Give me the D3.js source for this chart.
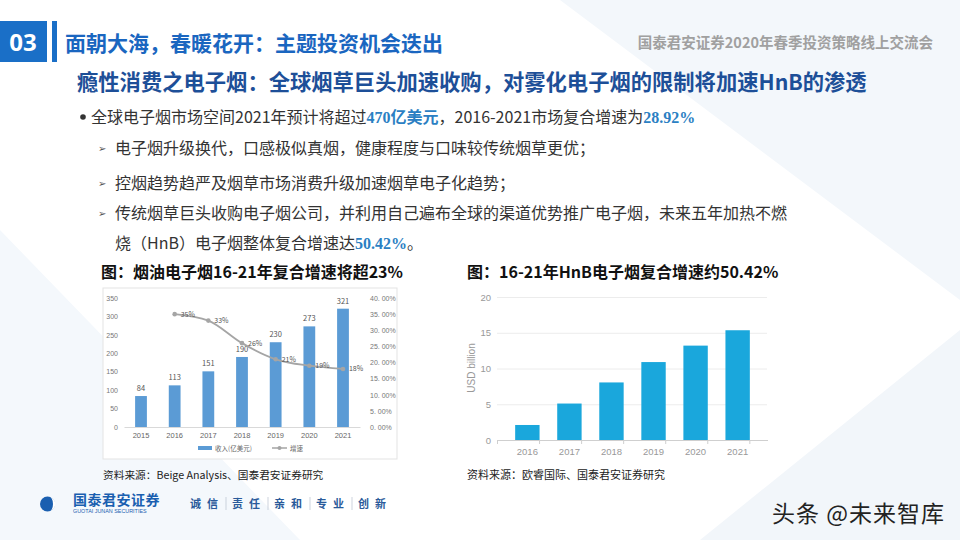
<!DOCTYPE html>
<html>
<head>
<meta charset="utf-8">
<script src="https://cdn.jsdelivr.net/npm/d3@7"></script>
<style>
  body { margin: 0; background: #fff; }
  svg { display: block; font-family: "Noto Sans CJK SC", "Noto Sans", sans-serif; }
</style>
</head>
<body>
<div id="slide"></div>
<script>
// left chart data (烟油电子烟)
const years1 = ["2015", "2016", "2017", "2018", "2019", "2020", "2021"];
const revenue = [84, 113, 151, 190, 230, 273, 321];
const growthYears = ["2016", "2017", "2018", "2019", "2020", "2021"];
const growth = [0.35, 0.33, 0.26, 0.21, 0.19, 0.18];
const leftTicks = [0, 50, 100, 150, 200, 250, 300, 350];
const rightTicks = [0, 0.05, 0.10, 0.15, 0.20, 0.25, 0.30, 0.35, 0.40];

// right chart data (HnB)
const years2 = ["2016", "2017", "2018", "2019", "2020", "2021"];
const hnb = [2.1, 5.1, 8.05, 10.9, 13.2, 15.35];
const hnbTicks = [0, 5, 10, 15, 20];

const W = 960, H = 540;
const svg = d3.select("#slide").append("svg")
    .attr("width", W).attr("height", H);

// faint background shapes
svg.append("rect").attr("width", W).attr("height", H).attr("fill", "#ffffff");
svg.append("path").attr("d", "M560,0 L960,0 L960,300 Z").attr("fill", "#f3f7fb");
svg.append("path").attr("d", "M0,230 L300,540 L0,540 Z").attr("fill", "#f4f8fc");
svg.append("path").attr("d", "M700,540 L960,330 L960,540 Z").attr("fill", "#f2f6fa");

// header
svg.append("rect").attr("x", 0).attr("y", 21).attr("width", 47).attr("height", 41).attr("fill", "#1a6fc7");
svg.append("text").attr("x", 23).attr("y", 51).attr("text-anchor", "middle")
    .attr("fill", "#fff").style("font-size", "24px").style("font-weight", "bold")
    .style("font-family", "'Open Sans', sans-serif").text("03");
svg.append("rect").attr("x", 52).attr("y", 21).attr("width", 5).attr("height", 41).attr("fill", "#1a6fc7");
svg.append("text").attr("x", 65).attr("y", 51)
    .attr("fill", "#1a66c0").style("font-size", "21px").style("font-weight", "bold")
    .text("面朝大海，春暖花开：主题投资机会迭出");
svg.append("text").attr("x", 933).attr("y", 48).attr("text-anchor", "end")
    .attr("fill", "#a0a0a0").style("font-size", "14.5px").style("font-weight", "bold")
    .text("国泰君安证券2020年春季投资策略线上交流会");
svg.append("text").attr("x", 77).attr("y", 90)
    .attr("fill", "#1d4f98").style("font-size", "21.3px").style("font-weight", "bold")
    .text("瘾性消费之电子烟：全球烟草巨头加速收购，对雾化电子烟的限制将加速HnB的渗透");

// bullets
const serif = "'Liberation Serif', 'DejaVu Serif', serif";
function richLine(x, y, parts) {
    const t = svg.append("text").attr("x", x).attr("y", y)
        .attr("fill", "#333").style("font-size", "16px");
    parts.forEach(p => {
        const s = t.append("tspan").text(p.t);
        if (p.hi) s.attr("fill", "#2b7fc3").style("font-weight", "bold")
            .style("font-family", p.cjk ? null : serif);
    });
}
svg.append("circle").attr("cx", 83).attr("cy", 117).attr("r", 2.8).attr("fill", "#333");
richLine(91, 123, [
    { t: "全球电子烟市场空间2021年预计将超过" },
    { t: "470", hi: true }, { t: "亿美元", hi: true, cjk: true },
    { t: "，2016-2021市场复合增速为" },
    { t: "28.92%", hi: true }
]);
const subs = [
    { y: 154, parts: [{ t: "电子烟升级换代，口感极似真烟，健康程度与口味较传统烟草更优；" }] },
    { y: 189, parts: [{ t: "控烟趋势趋严及烟草市场消费升级加速烟草电子化趋势；" }] },
    { y: 219, parts: [{ t: "传统烟草巨头收购电子烟公司，并利用自己遍布全球的渠道优势推广电子烟，未来五年加热不燃" }] }
];
subs.forEach(s => {
    svg.append("text").attr("x", 98).attr("y", s.y - 2).attr("fill", "#555")
        .style("font-size", "10px").text("➢");
    richLine(115, s.y, s.parts);
});
richLine(115, 249, [{ t: "烧（HnB）电子烟整体复合增速达" }, { t: "50.42%", hi: true }, { t: "。" }]);

// ---------- left chart ----------
svg.append("text").attr("x", 101).attr("y", 278).attr("fill", "#111")
    .style("font-size", "16px").style("font-weight", "bold").text("图：烟油电子烟16-21年复合增速将超23%");
svg.append("rect").attr("x", 103).attr("y", 288).attr("width", 294).attr("height", 171)
    .attr("fill", "#fff").attr("stroke", "#e3e3e3");

const g1 = svg.append("g");
const x1 = d3.scaleBand().domain(years1).range([124, 360]).paddingInner(0.65).paddingOuter(0.33);
const y1 = d3.scaleLinear().domain([0, 350]).range([427, 298]);
const y1r = d3.scaleLinear().domain([0, 0.4]).range([427, 298]);

g1.append("g").attr("transform", "translate(120,0)")
    .call(d3.axisLeft(y1).tickValues(leftTicks).tickSize(0).tickPadding(2))
    .call(a => a.select(".domain").remove())
    .selectAll("text").attr("fill", "#777").style("font-size", "7px");
g1.append("g").attr("transform", "translate(368,0)")
    .call(d3.axisRight(y1r).tickValues(rightTicks).tickSize(0).tickPadding(2)
        .tickFormat(d => d3.format(".2f")(d * 100).replace(".", ". ") + "%"))
    .call(a => a.select(".domain").remove())
    .selectAll("text").attr("fill", "#777").style("font-size", "7px");
g1.append("g").attr("transform", "translate(0,427)")
    .call(d3.axisBottom(x1).tickSize(0).tickPadding(6))
    .call(a => a.select(".domain").attr("stroke", "#d9d9d9"))
    .selectAll("text").attr("fill", "#666").style("font-size", "7.5px");

g1.selectAll(".bar").data(revenue).enter().append("rect")
    .attr("x", (d, i) => x1(years1[i])).attr("y", d => y1(d))
    .attr("width", x1.bandwidth()).attr("height", d => 427 - y1(d))
    .attr("fill", "#5b9bd5");
g1.selectAll(".blab").data(revenue).enter().append("text")
    .attr("x", (d, i) => x1(years1[i]) + x1.bandwidth() / 2).attr("y", d => y1(d) - 5)
    .attr("text-anchor", "middle").attr("fill", "#555").style("font-size", "7.5px").text(d => d);

const cx1 = d => x1(d) + x1.bandwidth() / 2;
g1.append("path").datum(growth)
    .attr("d", d3.line().curve(d3.curveMonotoneX).x((d, i) => cx1(growthYears[i])).y(d => y1r(d)))
    .attr("fill", "none").attr("stroke", "#a5a5a5").attr("stroke-width", 1.8);
g1.selectAll(".pt").data(growth).enter().append("circle")
    .attr("cx", (d, i) => cx1(growthYears[i])).attr("cy", d => y1r(d)).attr("r", 2.3).attr("fill", "#a5a5a5");
g1.selectAll(".glab").data(growth).enter().append("text")
    .attr("x", (d, i) => cx1(growthYears[i]) + 6).attr("y", d => y1r(d) + 2.5)
    .attr("fill", "#555").style("font-size", "7px").text(d => Math.round(d * 100) + "%");

// legend
g1.append("rect").attr("x", 198).attr("y", 446).attr("width", 14).attr("height", 4).attr("fill", "#5b9bd5");
g1.append("text").attr("x", 215).attr("y", 451).attr("fill", "#666").style("font-size", "6.5px").text("收入(亿美元)");
g1.append("line").attr("x1", 272).attr("x2", 287).attr("y1", 448).attr("y2", 448).attr("stroke", "#a5a5a5").attr("stroke-width", 1.5);
g1.append("circle").attr("cx", 279.5).attr("cy", 448).attr("r", 2).attr("fill", "#a5a5a5");
g1.append("text").attr("x", 290).attr("y", 451).attr("fill", "#666").style("font-size", "6.5px").text("增速");

svg.append("text").attr("x", 103).attr("y", 479).attr("fill", "#222")
    .style("font-size", "10.7px").text("资料来源：Beige Analysis、国泰君安证券研究");

// ---------- right chart ----------
svg.append("text").attr("x", 467).attr("y", 278).attr("fill", "#111")
    .style("font-size", "16px").style("font-weight", "bold").text("图：16-21年HnB电子烟复合增速约50.42%");
svg.append("rect").attr("x", 483).attr("y", 288).attr("width", 287).attr("height", 172).attr("fill", "#fff");

const g2 = svg.append("g");
const x2 = d3.scaleBand().domain(years2).range([497.5, 767.5]).padding(0.42);
const y2 = d3.scaleLinear().domain([0, 20]).range([440, 297]);

g2.append("g").attr("transform", "translate(497,0)")
    .call(d3.axisLeft(y2).tickValues(hnbTicks).tickSize(-270).tickPadding(6))
    .call(a => a.select(".domain").remove())
    .call(a => a.selectAll("line").attr("stroke", "#ececec"))
    .selectAll("text").attr("fill", "#999").style("font-size", "9.5px")
    .style("font-family", "'Liberation Sans', Arial, sans-serif");
g2.append("g").attr("transform", "translate(0,440)")
    .call(d3.axisBottom(x2).tickSize(0).tickPadding(8))
    .call(a => a.select(".domain").attr("stroke", "#cfcfcf"))
    .selectAll("text").attr("fill", "#999").style("font-size", "9.5px")
    .style("font-family", "'Liberation Sans', Arial, sans-serif");
// separators between categories
g2.selectAll(".sep").data(years2.concat(["end"])).enter().append("line")
    .attr("x1", (d, i) => 497.5 + i * x2.step()).attr("x2", (d, i) => 497.5 + i * x2.step())
    .attr("y1", 440).attr("y2", 444).attr("stroke", "#cfcfcf");

g2.selectAll(".bar").data(hnb).enter().append("rect")
    .attr("x", (d, i) => x2(years2[i])).attr("y", d => y2(d))
    .attr("width", x2.bandwidth()).attr("height", d => 440 - y2(d))
    .attr("fill", "#1aa7dc");

svg.append("text").attr("transform", "translate(475,368) rotate(-90)").attr("text-anchor", "middle")
    .attr("fill", "#999").style("font-size", "10px")
    .style("font-family", "'Liberation Sans', Arial, sans-serif").text("USD billion");

svg.append("text").attr("x", 467).attr("y", 479).attr("fill", "#222")
    .style("font-size", "11px").text("资料来源：欧睿国际、国泰君安证券研究");

// ---------- footer ----------
const logo = svg.append("g");
logo.append("circle").attr("cx", 47.5).attr("cy", 504).attr("r", 7.5).attr("fill", "#1a5fb0");
logo.append("path").attr("d", "M49,496.6 A7.5,7.5 0 0,1 49,511.4 A4,7.4 0 0,0 49,496.6 Z").attr("fill", "#fff");
logo.append("text").attr("x", 73).attr("y", 505).attr("fill", "#1a5fb0")
    .style("font-size", "14px").style("font-weight", "bold").style("letter-spacing", "0.5px").text("国泰君安证券");
logo.append("text").attr("x", 73).attr("y", 513).attr("fill", "#1a5fb0")
    .style("font-size", "5.4px").style("font-family", "'Liberation Sans', Arial, sans-serif")
    .text("GUOTAI JUNAN SECURITIES");
const motto = ["诚信", "责任", "亲和", "专业", "创新"];
motto.forEach((m, i) => {
    const x0 = 190 + i * 42;
    logo.append("text").attr("x", x0).attr("y", 508).attr("fill", "#2a5a9a")
        .style("font-size", "11px").style("font-weight", "bold").style("letter-spacing", "6px").text(m);
    if (i < motto.length - 1)
        logo.append("line").attr("x1", x0 + 36).attr("x2", x0 + 36).attr("y1", 497).attr("y2", 510)
            .attr("stroke", "#c0c8d4").attr("stroke-width", 0.8);
});

svg.append("text").attr("x", 945).attr("y", 522).attr("text-anchor", "end")
    .attr("fill", "#222").style("font-size", "23px").style("letter-spacing", "1px").text("头条 @未来智库");
</script>
</body>
</html>
